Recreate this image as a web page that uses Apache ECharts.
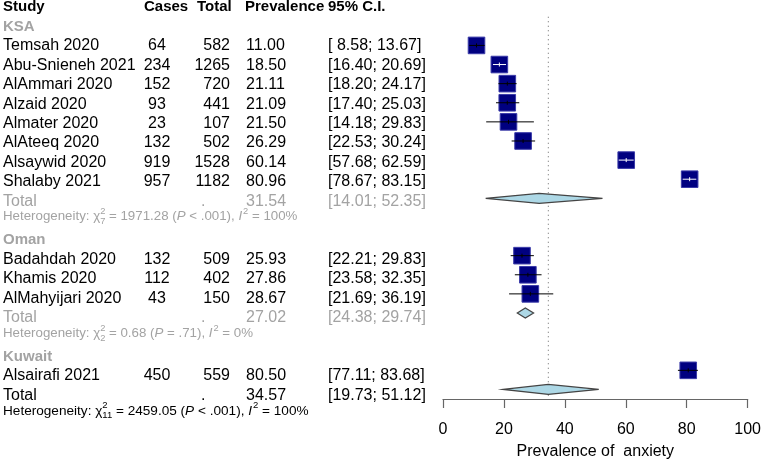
<!DOCTYPE html>
<html><head><meta charset="utf-8">
<script src="https://cdn.jsdelivr.net/npm/echarts/dist/echarts.min.js"></script>
<style>html,body{margin:0;padding:0;background:#fff}#c{width:764px;height:465px}</style>
</head><body><div id="c"></div>
<script>
// ---------- data ----------
const studies = ["Temsah 2020","Abu-Snieneh 2021","AlAmmari 2020","Alzaid 2020","Almater 2020","AlAteeq 2020","Alsaywid 2020","Shalaby 2021","Badahdah 2020","Khamis 2020","AlMahyijari 2020","Alsairafi 2021"];
const studyGroup = ["KSA","KSA","KSA","KSA","KSA","KSA","KSA","KSA","Oman","Oman","Oman","Kuwait"];
const cases = [64,234,152,93,23,132,919,957,132,112,43,450];
const totals = [582,1265,720,441,107,502,1528,1182,509,402,150,559];
const prevalence = [11.00,18.50,21.11,21.09,21.50,26.29,60.14,80.96,25.93,27.86,28.67,80.50];
const lowerCI = [8.58,16.40,18.20,17.40,14.18,22.53,57.68,78.67,22.21,23.58,21.69,77.11];
const upperCI = [13.67,20.69,24.17,25.03,29.83,30.24,62.59,83.15,29.83,32.35,36.19,83.68];

const groupNames = ["KSA","Oman","Kuwait"];
const groupEst = [31.54, 27.02, null];
const groupLow = [14.01, 24.38, null];
const groupUp = [52.35, 29.74, null];
const groupHetDf = [7, 2, null];
const groupHetQ = ["1971.28", "0.68", null];
const groupHetP = ["< .001", "= .71", null];
const groupHetI2 = ["100%", "0%", null];

const overallEst = 34.57, overallLow = 19.73, overallUp = 51.12;
const overallHetDf = 11, overallHetQ = "2459.05", overallHetP = "< .001", overallHetI2 = "100%";

const headers = ["Study","Cases","Total","Prevalence","95% C.I."];
const xTicks = [0,20,40,60,80,100];
const xTitle = "Prevalence of  anxiety";

// ---------- layout helpers ----------
const FAM = '"Liberation Sans", Arial, Helvetica, sans-serif';
const GRAY = '#a3a3a3';
const measureCtx = document.createElement('canvas').getContext('2d');
function tw(t, font){ measureCtx.font = font; return measureCtx.measureText(t).width; }
function f(v){ return v.toFixed(2); }
function ciText(lo, hi){
  const p = v => (v < 10 ? ' ' : '') + f(v);
  return '[' + p(lo) + '; ' + p(hi) + ']';
}
const COL = {study:3, cases:157, total:230, dot:201, prev:246, ci:328};
const HEAD_X = [3,144,197,245,328];

const textSpecs = [];
const studyRows = [];   // [est, lo, hi, row]
const diamondRows = []; // [est, lo, hi, row]
function T(x,row,text,opt){ textSpecs.push(Object.assign({x,row,text,align:'left',size:16,weight:'normal',color:'#000'},opt||{})); }

headers.forEach((h,i)=>T(HEAD_X[i],0,h,{weight:'bold',size:15}));
let r = 1;
groupNames.forEach((g,gi)=>{
  T(COL.study,r,g,{weight:'bold',color:GRAY,size:15}); r++;
  studies.forEach((s,i)=>{
    if(studyGroup[i]!==g) return;
    T(COL.study,r,s);
    T(COL.cases,r,String(cases[i]),{align:'center'});
    T(COL.total,r,String(totals[i]),{align:'right'});
    T(COL.prev,r,f(prevalence[i]));
    T(COL.ci,r,ciText(lowerCI[i],upperCI[i]));
    studyRows.push([prevalence[i],lowerCI[i],upperCI[i],r]);
    r++;
  });
  if(groupEst[gi]!==null){
    T(COL.study,r,'Total',{color:GRAY});
    T(COL.dot,r,'.',{color:GRAY});
    T(COL.prev,r,f(groupEst[gi]),{color:GRAY});
    T(COL.ci,r,ciText(groupLow[gi],groupUp[gi]),{color:GRAY});
    diamondRows.push([groupEst[gi],groupLow[gi],groupUp[gi],r]);
    textSpecs.push({type:'het',x:COL.study,row:r+0.8,df:groupHetDf[gi],q:groupHetQ[gi],p:groupHetP[gi],i2:groupHetI2[gi],color:GRAY,size:13.3});
    r += 2;
  }
});
T(COL.study,r,'Total');
T(COL.dot,r,'.');
T(COL.prev,r,f(overallEst));
T(COL.ci,r,ciText(overallLow,overallUp));
diamondRows.push([overallEst,overallLow,overallUp,r]);
textSpecs.push({type:'het',x:COL.study,row:r+0.8,df:overallHetDf,q:overallHetQ,p:overallHetP,i2:overallHetI2,color:'#000',size:13.6});

const ROW_MAX = 20.5;

function hetGroup(p, s){
  const fN = s.size + 'px ' + FAM, fI = 'italic ' + s.size + 'px ' + FAM, fS = (s.size*0.7).toFixed(1) + 'px ' + FAM;
  let x = p[0]; const y = p[1]; const ch = [];
  function add(t, font, dy, adv){
    ch.push({type:'text', x:x, y:y+dy, style:{text:t, font:font, fill:s.color, align:'left', verticalAlign:'middle'}});
    if(adv!==false) x += tw(t,font);
  }
  add('Heterogeneity: ', fN, 0);
  add('\u03c7', fN, 0);
  const w1 = tw('2',fS), w2 = tw(String(s.df),fS);
  add('2', fS, -5, false); add(String(s.df), fS, 5, false);
  x += Math.max(w1,w2);
  add(' = ' + s.q + ' (', fN, 0);
  add('P', fI, 0);
  add(' ' + s.p + '), ', fN, 0);
  add('I', fI, 0);
  x += 1;
  add('2', fS, -5);
  add(' = ' + s.i2, fN, 0);
  return {type:'group', children: ch};
}

const chart = echarts.init(document.getElementById('c'), null, {renderer:'canvas'});
chart.setOption({
  animation:false,
  backgroundColor:'#fff',
  grid:[
    {left:443, right:15, top:7.2, bottom:60},
    {left:0, right:0, top:7.2, bottom:60}
  ],
  xAxis:[
    {gridIndex:0, type:'value', min:0, max:100, interval:20, position:'bottom',
     axisLine:{show:true, onZero:false, lineStyle:{color:'#666', width:1.2}},
     axisTick:{show:true, length:9, lineStyle:{color:'#666', width:1.2}},
     axisLabel:{fontSize:16, color:'#000', fontFamily:FAM, margin:23,
       formatter: v => xTicks.includes(v) ? String(v) : ''},
     splitLine:{show:false},
     name:xTitle, nameLocation:'middle', nameGap:45,
     nameTextStyle:{fontSize:16, color:'#000', fontFamily:FAM}},
    {gridIndex:1, type:'value', min:0, max:764, show:false}
  ],
  yAxis:[
    {gridIndex:0, type:'value', min:0, max:ROW_MAX, inverse:true, show:false},
    {gridIndex:1, type:'value', min:0, max:ROW_MAX, inverse:true, show:false}
  ],
  series:[
    {type:'line', xAxisIndex:0, yAxisIndex:0, symbol:'none', silent:true, z:1,
     data:[[overallEst,0.5],[overallEst,ROW_MAX]],
     lineStyle:{color:'#666', width:1, type:[1,3.5]}},
    {type:'custom', xAxisIndex:0, yAxisIndex:0, z:3, data:studyRows,
     renderItem:(params, api)=>{
       const c = api.coord([api.value(0), api.value(3)]);
       const lo = api.coord([api.value(1), api.value(3)]);
       const hi = api.coord([api.value(2), api.value(3)]);
       const h = 8.3;
       const inside = lo[0] >= c[0]-8 && hi[0] <= c[0]+8;
       const lc = inside ? '#ffffff' : '#000000';
       return {type:'group', children:[
         {type:'rect', shape:{x:c[0]-h, y:c[1]-h, width:2*h, height:2*h},
          style:{fill:'#000080', stroke:'#3a3aa8', lineWidth:1}},
         {type:'line', shape:{x1:lo[0], y1:c[1], x2:hi[0], y2:c[1]}, style:{stroke:lc, lineWidth:1}},
         {type:'line', shape:{x1:c[0], y1:c[1]-2, x2:c[0], y2:c[1]+2}, style:{stroke:lc, lineWidth:1}}
       ]};
     }},
    {type:'custom', xAxisIndex:0, yAxisIndex:0, z:4, data:diamondRows,
     renderItem:(params, api)=>{
       const c = api.coord([api.value(0), api.value(3)]);
       const lo = api.coord([api.value(1), api.value(3)]);
       const hi = api.coord([api.value(2), api.value(3)]);
       const h = 5;
       return {type:'polygon', shape:{points:[[lo[0],c[1]],[c[0],c[1]-h],[hi[0],c[1]],[c[0],c[1]+h]]},
         style:{fill:'#add8e6', stroke:'#444', lineWidth:1.2}};
     }},
    {type:'custom', xAxisIndex:1, yAxisIndex:1, z:5, clip:false,
     data:textSpecs.map(s=>[s.x, s.row]),
     renderItem:(params, api)=>{
       const s = textSpecs[params.dataIndex];
       const p = api.coord([api.value(0), api.value(1)]);
       if(s.type==='het') return hetGroup(p, s);
       return {type:'text', x:p[0], y:p[1], style:{text:s.text, fill:s.color,
         font: s.weight + ' ' + s.size + 'px ' + FAM, align:s.align, verticalAlign:'middle'}};
     }}
  ]
});
</script></body></html>
